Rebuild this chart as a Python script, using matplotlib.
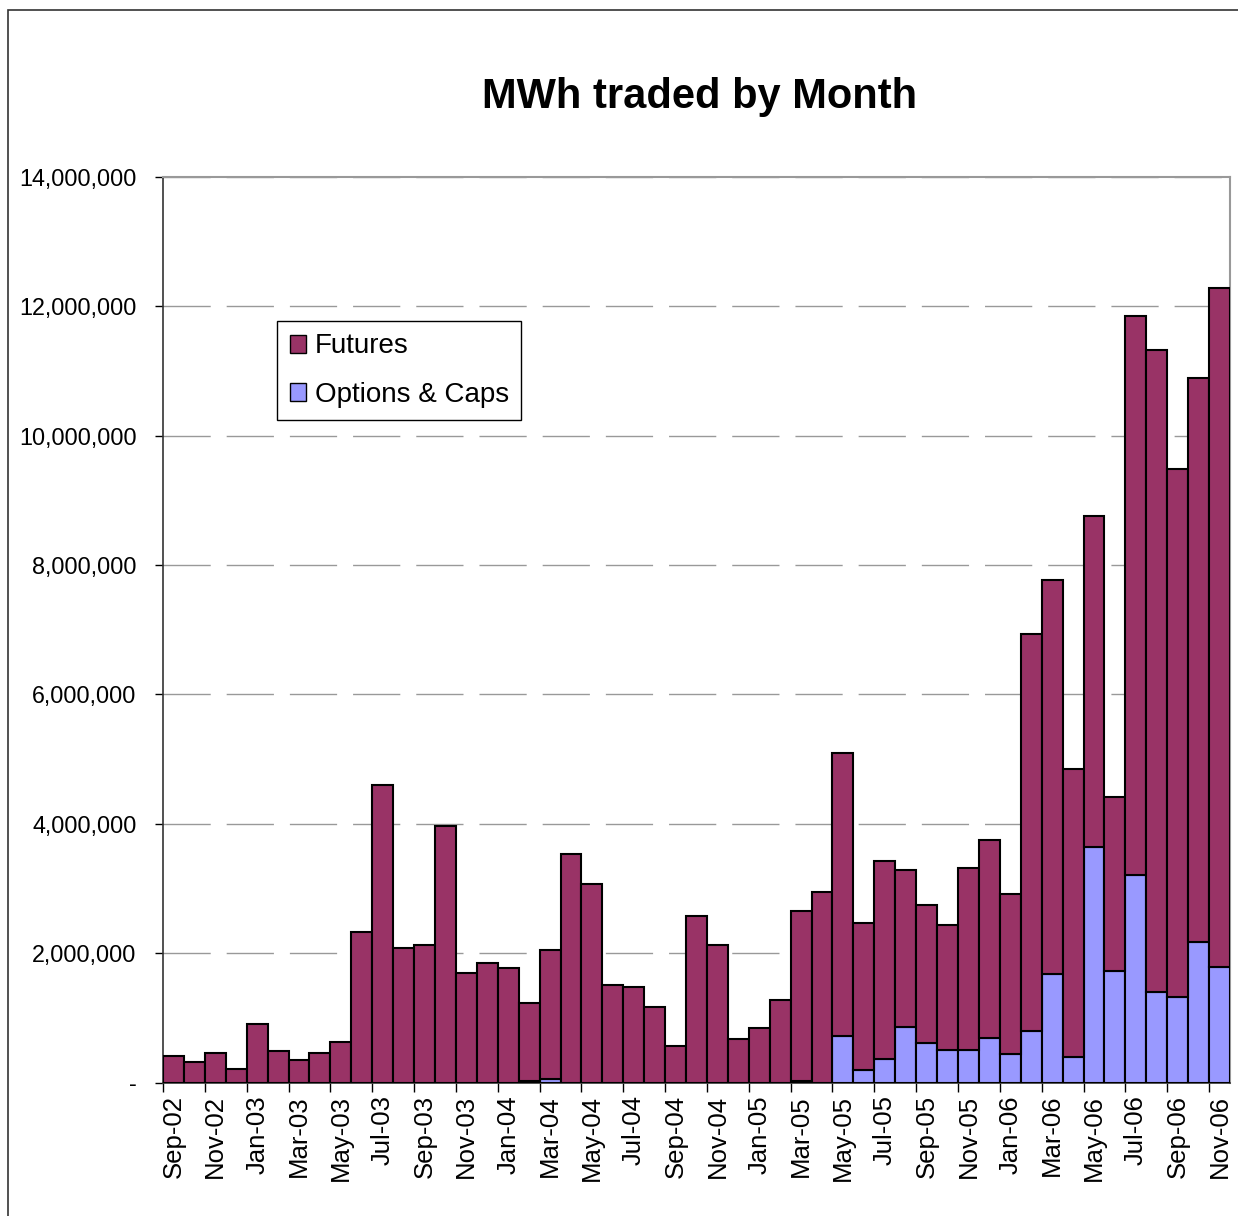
import numpy as np
import matplotlib
matplotlib.use("Agg")
import matplotlib.pyplot as plt
from matplotlib.patches import Patch, Rectangle
from matplotlib.ticker import FuncFormatter, FixedLocator

plt.rcParams['font.family'] = ['Liberation Sans', 'DejaVu Sans']

# monthly volumes, Sep-02 .. Nov-06 (MWh)
months = ['Sep-02', 'Oct-02', 'Nov-02', 'Dec-02',
          'Jan-03', 'Feb-03', 'Mar-03', 'Apr-03', 'May-03', 'Jun-03',
          'Jul-03', 'Aug-03', 'Sep-03', 'Oct-03', 'Nov-03', 'Dec-03',
          'Jan-04', 'Feb-04', 'Mar-04', 'Apr-04', 'May-04', 'Jun-04',
          'Jul-04', 'Aug-04', 'Sep-04', 'Oct-04', 'Nov-04', 'Dec-04',
          'Jan-05', 'Feb-05', 'Mar-05', 'Apr-05', 'May-05', 'Jun-05',
          'Jul-05', 'Aug-05', 'Sep-05', 'Oct-05', 'Nov-05', 'Dec-05',
          'Jan-06', 'Feb-06', 'Mar-06', 'Apr-06', 'May-06', 'Jun-06',
          'Jul-06', 'Aug-06', 'Sep-06', 'Oct-06', 'Nov-06']

total = [410000, 310000, 455000, 210000,
         910000, 490000, 350000, 455000, 630000, 2330000,
         4600000, 2080000, 2120000, 3960000, 1690000, 1840000,
         1770000, 1230000, 2050000, 3530000, 3070000, 1510000,
         1480000, 1160000, 565000, 2580000, 2120000, 670000,
         850000, 1280000, 2650000, 2940000, 5090000, 2470000,
         3420000, 3285000, 2750000, 2430000, 3320000, 3750000,
         2920000, 6940000, 7770000, 4850000, 8760000, 4410000,
         11850000, 11320000, 9480000, 10890000, 12280000]

options = [0, 0, 0, 0,
           0, 0, 0, 0, 0, 0,
           0, 0, 0, 0, 0, 0,
           0, 30000, 60000, 0, 0, 0,
           0, 0, 0, 0, 0, 0,
           0, 0, 30000, 0, 725000, 190000,
           370000, 865000, 610000, 510000, 510000, 690000,
           440000, 800000, 1680000, 400000, 3640000, 1720000,
           3210000, 1400000, 1320000, 2180000, 1790000]

futures = [t - o for t, o in zip(total, options)]

futures_color = '#993366'
options_color = '#9999FF'

fig = plt.figure(figsize=(12.38, 12.16), dpi=100)
# outer chart frame
fig.patches.append(Rectangle((8/1238, -0.1), 1.1, 1.1 - 10/1216,
                             transform=fig.transFigure, fill=False,
                             edgecolor='#333333', linewidth=1.2))
ax = fig.add_axes([163/1238, 1 - 1082.5/1216, 1067/1238, 905.5/1216])

x = np.arange(len(months))
ax.bar(x, options, width=1.0, color=options_color, edgecolor='black', linewidth=1.5, zorder=3)
ax.bar(x, futures, width=1.0, bottom=options, color=futures_color,
       edgecolor='black', linewidth=1.5, zorder=3)

ax.set_xlim(-0.5, len(months) - 0.5)
ax.set_ylim(0, 14000000)
ax.set_yticks(np.arange(0, 14000001, 2000000))
ax.yaxis.set_major_formatter(FuncFormatter(lambda v, p: '-' if v == 0 else '{:,.0f}'.format(v)))
ax.tick_params(axis='y', labelsize=16.8, length=6, width=1, direction='out', pad=13)

ax.set_xticks(x[::2])
ax.set_xticklabels(months[::2], rotation=90, fontsize=18.5)
ax.xaxis.set_minor_locator(FixedLocator(np.arange(-0.5, len(months) - 1, 2)))
ax.tick_params(axis='x', which='major', length=0, pad=9)
ax.tick_params(axis='x', which='minor', length=6.5, width=1, direction='out')

ax.grid(axis='y', color='#999999', linewidth=1, linestyle=(0, (34, 11.5)), zorder=0)

for s in ['top', 'right']:
    ax.spines[s].set_color('#999999')
    ax.spines[s].set_linewidth(1.5)
for s in ['left', 'bottom']:
    ax.spines[s].set_color('#333333')
    ax.spines[s].set_linewidth(1.2)

handles = [Patch(facecolor=futures_color, edgecolor='black', label='Futures'),
           Patch(facecolor=options_color, edgecolor='black', label='Options & Caps')]
leg = ax.legend(handles=handles, loc='upper left', bbox_to_anchor=(0.107, 0.841),
                borderaxespad=0, fontsize=20, fancybox=False, framealpha=1,
                edgecolor='black', handlelength=0.6, handleheight=0.6,
                handletextpad=0.3, labelspacing=0.8, borderpad=0.45)
leg.get_frame().set_linewidth(1)
leg.set_zorder(5)

fig.text(700/1238, 1 - 97/1216, 'MWh traded by Month', ha='center', va='center',
         fontsize=30, fontweight='bold')

fig.savefig('out.png', dpi=100)
